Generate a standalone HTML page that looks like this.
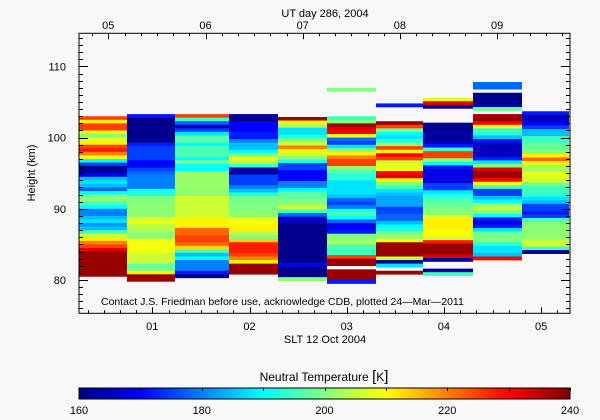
<!DOCTYPE html>
<html><head><meta charset="utf-8"><style>
body{margin:0;background:#f8f8f8;}
svg{display:block;font-family:"Liberation Sans",sans-serif;}
</style></head><body>
<svg id="c" width="600" height="420" viewBox="0 0 600 420">
<rect width="600" height="420" fill="#f8f8f8"/>
<g id="cells"></g>
<g id="axes"></g>
<g id="cbar"></g>
</svg>
<script>
// SLT (hours) at start of each column, plus end
const colStarts = [0.246, 0.74, 1.23, 1.79, 2.29, 2.80, 3.30, 3.79, 4.30, 4.80, 5.29];
// top height (km) of each column
const colTops = [103, 103.3, 103.3, 103.3, 102.9, 107, 104.8, 105.6, 107.8, 103.7];
const rowStepKm = 0.5;
// temperatures (K), rows from top down, 0.5 km each; null = no data
const col1 = [225,211,225,225,211,201,208,211,225,228,220,209,190,175,162,162,170,185,188,185,178,190,200,201,195,190,180,180,185,188,182,185,195,206,211,220,225,232,238,238,238,238,238,238,238];
const col2 = [172,161,161,161,161,161,161,161,172,175,175,175,175,170,170,175,178,180,180,180,180,192,192,200,200,201,201,201,201,208,208,204,204,201,201,209,209,209,209,206,206,206,198,198,211,238,238];
const col3 = [225,195,178,165,175,188,197,197,190,196,196,196,190,200,190,190,202,202,202,202,202,201,201,206,206,206,206,206,206,211,211,211,222,222,225,225,222,213,195,185,190,180,180,180,172,162];
const col4 = [161,161,170,170,170,172,172,180,185,185,190,201,211,204,195,163,163,175,175,175,180,185,192,199,199,200,200,201,201,209,209,211,211,204,200,214,228,228,228,225,220,211,238,238,238];
const col5 = [238,211,204,188,188,192,200,206,220,211,206,200,192,175,175,170,170,170,180,180,190,197,197,201,201,206,195,178,165,165,161,161,161,161,161,161,161,161,161,161,161,170,161,161,161,201];
const col6 = [200,null,null,null,null,null,null,null,195,201,238,232,230,208,178,175,188,201,211,220,225,225,201,197,193,193,188,188,188,188,185,178,175,180,193,195,190,178,170,170,172,200,201,204,195,195,195,225,238,238,null,238,238,238,172];
const col7 = [172,null,null,null,null,238,225,200,190,188,192,201,225,211,230,225,206,208,209,230,232,211,201,195,188,185,183,183,183,175,175,178,178,185,190,192,200,201,209,238,238,238,238,206,162,188,null,238];
const col8 = [208,232,161,null,null,null,null,161,161,163,163,162,165,172,195,225,225,201,190,172,168,168,168,168,175,175,188,192,195,198,198,200,201,208,211,211,211,210,210,206,228,238,238,238,232,162,null,null,162,195];
const col9 = [178,178,null,161,161,161,163,199,null,238,238,230,209,195,193,185,172,165,165,165,165,172,188,200,232,238,238,230,209,195,175,175,185,190,201,206,201,190,172,168,172,188,198,200,200,193,188,188,185,230];
const col10 = [172,165,165,170,175,185,185,195,195,198,198,201,211,222,211,203,203,208,208,206,199,195,195,193,188,185,175,175,172,175,195,200,201,201,201,201,206,206,195,162];
const columns = [col1,col2,col3,col4,col5,col6,col7,col8,col9,col10];
const cbTicks = [160,180,200,220,240];
const yTicks = [80,90,100,110];
const utLabels = ["05","06","07","08","09"];
const sltLabels = ["01","02","03","04","05"];

const NS="http://www.w3.org/2000/svg";
const X0=79, X1=570, Y0=33.3, Y1=313.3;
const xs = h => 152.3 + 97.2*(h-1);
const xu = h => 108.3 + 97.2*(h-5);
const ys = km => 280 - (km-80)*7.12;
const TMIN=160, TMAX=240;
function jet(t){
  let v=(t-TMIN)/(TMAX-TMIN); v=Math.max(0,Math.min(1,v));
  const f=x=>Math.max(0,Math.min(1,x));
  const r=f(Math.min(4*v-1.5,-4*v+4.5)), g=f(Math.min(4*v-0.5,-4*v+3.5)), b=f(Math.min(4*v+0.5,-4*v+2.5));
  return `rgb(${Math.round(r*255)},${Math.round(g*255)},${Math.round(b*255)})`;
}
function el(tag,attrs,parent){const e=document.createElementNS(NS,tag);for(const k in attrs)e.setAttribute(k,attrs[k]);parent.appendChild(e);return e;}

const cells=document.getElementById('cells');
columns.forEach((vals,ci)=>{
  const xa=Math.round(xs(colStarts[ci])), xb=Math.round(xs(colStarts[ci+1]));
  vals.forEach((v,j)=>{
    if(v===null) return;
    const top=colTops[ci]-rowStepKm*j;
    const ya=ys(top), yb=ys(top-rowStepKm);
    const r=el('rect',{x:xa,y:ya.toFixed(2),width:xb-xa,height:(yb-ya+0.3).toFixed(2),fill:jet(v)},cells);
    
    
  });
});

const ax=document.getElementById('axes');
const fr=el('rect',{x:X0,y:Y0,width:X1-X0,height:Y1-Y0,fill:'none',stroke:'#000','stroke-width':1},ax);


for(let km=76;km<=114;km++){
  const y=Math.round(ys(km))+0.5; const L=(km%10===0)?9:4;
  el('line',{x1:X0,y1:y,x2:X0+L,y2:y,stroke:'#000'},ax);
  el('line',{x1:X1,y1:y,x2:X1-L,y2:y,stroke:'#000'},ax);
}
yTicks.forEach(v=>{
  const t=el('text',{x:66,y:ys(v)+4,'text-anchor':'end','font-size':11},ax);t.textContent=v;
  
  
});
for(let m=0;m<=6*6;m++){
  const h=m/6; const x=Math.round(xs(h))+0.5; if(x<X0||x>X1)continue;
  const L=(m%6===0)?6:3;
  el('line',{x1:x,y1:Y1,x2:x,y2:Y1-L,stroke:'#000'},ax);
}
sltLabels.forEach((s,i)=>{
  const t=el('text',{x:xs(i+1),y:330,'text-anchor':'middle','font-size':11},ax);t.textContent=s;
  
  
});
for(let m=4*6;m<=10*6;m++){
  const h=m/6; const x=Math.round(xu(h))+0.5; if(x<X0||x>X1)continue;
  const L=(m%6===0)?6:3;
  el('line',{x1:x,y1:Y0,x2:x,y2:Y0+L,stroke:'#000'},ax);
}
utLabels.forEach((s,i)=>{
  const t=el('text',{x:xu(i+5),y:29,'text-anchor':'middle','font-size':11},ax);t.textContent=s;
  
  
});
function txt(x,y,s,name,extra){const t=el('text',Object.assign({x:x,y:y,'font-size':11},extra||{}),ax);t.textContent=s;
  
  return t;}
txt(325,17,"UT day 286, 2004","top-axis-title",{'text-anchor':'middle'});
txt(325,343,"SLT 12 Oct 2004","x-axis-title",{'text-anchor':'middle'});
txt(101,305,"Contact J.S. Friedman before use, acknowledge CDB, plotted 24\u2014Mar\u20142011","credit-note",{'font-size':10.5});
txt(0,0,"Height (km)","y-axis-title",{'text-anchor':'middle',transform:'translate(35,173) rotate(-90)'});

const cb=document.getElementById('cbar');
const CX0=79,CX1=570,CY0=388,CY1=399;
const N=240;
for(let i=0;i<N;i++){
  const t=TMIN+(TMAX-TMIN)*(i+0.5)/N;
  el('rect',{x:(CX0+(CX1-CX0)*i/N).toFixed(2),y:CY0,width:((CX1-CX0)/N+0.4).toFixed(2),height:CY1-CY0,fill:jet(t)},cb);
}
const cf=el('rect',{x:CX0,y:CY0,width:CX1-CX0,height:CY1-CY0,fill:'none',stroke:'#000'},cb);


for(let v=160;v<=240;v+=10){
  const x=Math.round(CX0+(CX1-CX0)*(v-TMIN)/(TMAX-TMIN))+0.5;
  el('line',{x1:x,y1:CY0,x2:x,y2:CY0+3,stroke:'#000'},cb);
}
cbTicks.forEach(v=>{
  const t=el('text',{x:CX0+(CX1-CX0)*(v-TMIN)/(TMAX-TMIN),y:414,'text-anchor':'middle','font-size':11},cb);t.textContent=v;
  
  
});
const ct=el('text',{x:324,y:381,'text-anchor':'middle','font-size':12},cb);
ct.innerHTML='Neutral Temperature <tspan font-size="15">[</tspan>K<tspan font-size="15">]</tspan>';


</script>
</body></html>
